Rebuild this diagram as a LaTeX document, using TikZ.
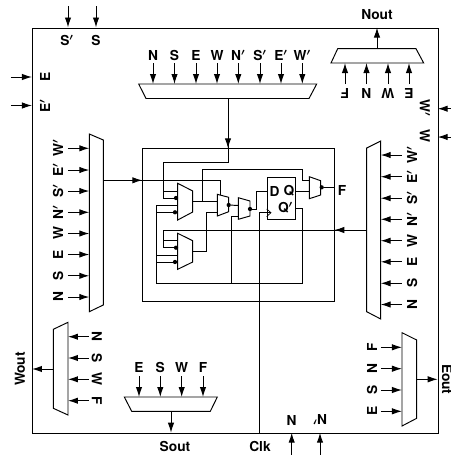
\documentclass[tikz,border=0pt]{standalone}
\usepackage{fontspec}
\setmainfont{TeX Gyre Heros}
\usetikzlibrary{arrows.meta}
\usepackage{amsmath}
\usepackage{amssymb}
\newcommand{\pr}{\ensuremath{{}^{\boldsymbol{\prime}}}}
\newcommand{\muxshape}[5]{%
  \coordinate (#1-a) at #2; \coordinate (#1-b) at #3;
  \coordinate (#1-c) at #4; \coordinate (#1-d) at #5;
  \draw[muxline] (#1-a) -- (#1-b) -- (#1-c) -- (#1-d) -- cycle;}
% named wire with arrow: name, from, to
\newcommand{\arw}[3]{%
  \coordinate (#1-s) at #2; \coordinate (#1-e) at #3;
  \draw[wire,-{Latex[length=7.5pt,width=4.8pt]}] (#1-s) -- (#1-e);}
\tikzset{
  muxline/.style={line width=0.72pt,line join=miter},
  wire/.style={line width=0.72pt},
  lab/.style={font=\bfseries\fontsize{10.3}{11}\selectfont,inner sep=0pt,text=black},
  bit/.style={circle,fill=black,inner sep=0pt,minimum size=3.2pt},
}
\begin{document}
\begin{tikzpicture}[x=0.75pt,y=-0.75pt]
\useasboundingbox (0,0) rectangle (451,455);
% outer and inner boxes
\node[draw,line width=0.75pt,minimum width=304.5pt,minimum height=303.9pt,inner sep=0pt,anchor=north west] (outer) at (32,27.5) {};
\node[draw,line width=0.75pt,minimum width=144pt,minimum height=114.8pt,inner sep=0pt,anchor=north west] (inner) at (142.3,148.3) {};

% top inputs
\arw{ts1}{(68,6)}{(68,27.5)}
\arw{ts2}{(96,6)}{(96,27.5)}
\node[lab] (lSp) at (67,40) {S\pr};
\node[lab] (lS) at (96,40) {S};
% left inputs
\arw{le1}{(11,77)}{(32,77)}
\arw{le2}{(11,105.5)}{(32,105.5)}
\node[lab,rotate=90] (lE) at (45,77) {E};
\node[lab,rotate=90] (lEp) at (45,105.5) {E\pr};
% right inputs
\arw{rw1}{(451,108.7)}{(437.7,108.7)}
\arw{rw2}{(451,137)}{(437.7,137)}
\node[lab,rotate=-90] (lWp) at (425,108) {W\pr};
\node[lab,rotate=-90] (lW) at (425,136) {W};
% bottom inputs
\arw{bn1}{(291.7,455)}{(291.7,432.7)}
\arw{bn2}{(320,455)}{(320,432.7)}
\node[lab,rotate=180] (lN) at (291.7,420) {N};
\node[lab,rotate=180] (lNp) at (320,420) {N\pr};

% top mux
\muxshape{mt}{(138.7,84)}{(316.7,84)}{(309,98.5)}{(146,98.5)}
\foreach \x/\t [count=\i] in {153/N,174.5/S,196/E,217/W,238.3/N\pr,260/S\pr,281/E\pr,302.3/W\pr}{
  \arw{mti\i}{(\x,63)}{(\x,84)}
  \node[lab] (lmt\i) at (\x,55) {\t};
}
% Nout mux
\muxshape{mn}{(337.7,48.7)}{(416,48.7)}{(423.7,63)}{(331,63)}
\arw{mno}{(377,48.7)}{(377,27.5)}
\node[lab] (lNout) at (377,15) {Nout};
\foreach \x/\t [count=\i] in {345/F,366.5/N,388/W,409/E}{
  \arw{mni\i}{(\x,84)}{(\x,63)}
  \node[lab,rotate=180] (lmn\i) at (\x,93.5) {\t};
}
% left big mux
\muxshape{ml}{(89.3,134)}{(103.3,140)}{(103.3,305)}{(89.3,311.7)}
\foreach \y/\t [count=\i] in {148.3/W\pr,170/E\pr,191/S\pr,212.3/N\pr,233.5/W,254.5/E,275.8/S,297/N}{
  \arw{mli\i}{(68,\y)}{(89.3,\y)}
  \node[lab,rotate=90] (lml\i) at (58,\y) {\t};
}
% right big mux
\muxshape{mr}{(366.7,148)}{(380.7,141)}{(380.7,319)}{(366.7,311.7)}
\foreach \y/\t [count=\i] in {155/W\pr,176.7/E\pr,198.2/S\pr,219.3/N\pr,240.7/W,261.8/E,283.3/S,304.5/N}{
  \arw{mri\i}{(402,\y)}{(380.7,\y)}
  \node[lab,rotate=90] (lmr\i) at (412,\y) {\t};
}
% Wout mux
\muxshape{mw}{(53.3,329.3)}{(68,322.3)}{(68,415)}{(53.3,408.3)}
\arw{mwo}{(53.3,369)}{(32,369)}
\node[lab,rotate=90] (lWout) at (20,369) {Wout};
\foreach \y/\t [count=\i] in {336.7/N,358/S,379.3/W,400.7/F}{
  \arw{mwi\i}{(89,\y)}{(68,\y)}
  \node[lab,rotate=-90] (lmw\i) at (97,\y) {\t};
}
% Sout mux
\muxshape{ms}{(124.3,397)}{(217.3,397)}{(210.3,411.3)}{(131.7,411.3)}
\arw{mso}{(171,411.3)}{(171,432.7)}
\node[lab] (lSout) at (175,446) {Sout};
\foreach \x/\t [count=\i] in {139/E,160.3/S,181.7/W,203/F}{
  \arw{msi\i}{(\x,376)}{(\x,397)}
  \node[lab] (lms\i) at (\x,367) {\t};
}
% Eout mux
\muxshape{me}{(402,332.7)}{(416.7,340)}{(416.7,418.3)}{(402,426)}
\arw{meo}{(416.7,379.3)}{(437.7,379.3)}
\node[lab,rotate=-90] (lEout) at (447,379.3) {Eout};
\foreach \y/\t [count=\i] in {347.3/F,368.7/N,390/S,411.3/E}{
  \arw{mei\i}{(381,\y)}{(402,\y)}
  \node[lab,rotate=90] (lme\i) at (372,\y) {\t};
}

% logic cell
\muxshape{ca}{(177.7,183.3)}{(192.7,191)}{(192.7,212)}{(177.7,220)}
\muxshape{cb}{(177.7,233.3)}{(192.7,240.7)}{(192.7,262)}{(177.7,269.3)}
\muxshape{cc}{(217.3,194.3)}{(228.7,197.3)}{(228.7,211.7)}{(217.3,216)}
\muxshape{cd}{(238.3,197.7)}{(250,201)}{(250,216)}{(238.3,219.3)}
\muxshape{ce}{(309.3,176.7)}{(320.7,180.7)}{(320.7,195)}{(309.3,198.7)}
\node[draw,line width=0.75pt,minimum width=21.45pt,minimum height=32pt,inner sep=0pt,anchor=north west] (ff) at (266.7,176.7) {};
\node[lab] (lD) at (274.5,191) {D};
\node[lab] (lQ) at (289,191) {Q};
\node[lab] (lQp) at (285.5,208) {Q\pr};
\coordinate (ck1) at (266.7,209); \coordinate (ck2) at (271,212.7); \coordinate (ck3) at (266.7,216.5);
\draw[line width=0.5pt] (ck1) -- (ck2) -- (ck3);
\node[lab] (lF) at (342,190) {F};

% config bits
\node[bit] (b1) at (176,198) {};
\node[bit] (b2) at (175,212.3) {};
\node[bit] (b3) at (176,247.7) {};
\node[bit] (b4) at (175,262) {};
\node[bit] (b5) at (228.7,205) {};
\node[bit] (b6) at (250,209) {};
\node[bit] (b7) at (321.7,187.3) {};

% wires
\coordinate (mtout) at (228,98.5);
\coordinate (tin) at (228,162.7);
\coordinate (tl) at (163.7,162.7);
\arw{topa}{(mtout)}{(228,148.3)}
\draw[wire] (mtout) -- (tin) -- (tl) -- (163.7,198) -- (b1);
\draw[wire] (163.7,191.7) -- (177.7,191.7);
% left mux output
\coordinate (lmo) at (103.3,180.3);
\arw{lma}{(lmo)}{(142.3,180.3)}
\draw[wire] (lmo) -- (220.7,180.3) -- (220.7,195.1);
% right mux output
\coordinate (rmo) at (366.7,230);
\arw{rma}{(rmo)}{(334.3,230)}
\draw[wire] (rmo) -- (163.7,230) -- (163.7,247.7) -- (b3);
\draw[wire] (163.7,240.7) -- (177.7,240.7);
% feedback bus
\coordinate (bb) at (156.7,283.7);
\coordinate (br) at (302.7,283.7);
\draw[wire] (156.7,205) -- (bb) -- (br) -- (302.7,208.3) -- (295.3,208.3);
\draw[wire] (156.7,205) -- (177.7,205);
\draw[wire] (156.7,212.3) -- (b2);
\draw[wire] (156.7,255) -- (177.7,255);
\draw[wire] (156.7,262) -- (b4);
% mux A out, feeding C and E
\draw[wire] (192.7,201.3) -- (217.3,201.3);
\draw[wire] (202.7,201.3) -- (202.7,169.3) -- (302.7,169.3) -- (302.7,180.3) -- (309.3,180.3);
% mux B out
\draw[wire] (192.7,251.3) -- (206.3,251.3) -- (206.3,212.3) -- (217.3,212.3);
% C to D
\draw[wire] (b5) -- (238.3,205.5);
\draw[wire] (231,283.7) -- (231,216) -- (238.3,216);
% D to FF
\draw[wire] (b6) -- (256,209) -- (256,191) -- (266.7,191);
% Q to E, E to box
\draw[wire] (295.3,191) -- (309.3,191);
\draw[wire] (b7) -- (334.3,187.3);
% clock
\draw[wire] (259.7,432.7) -- (259.7,212.7) -- (ck2);
\node[lab] (lClk) at (260,446) {Clk};
\end{tikzpicture}
\end{document}
